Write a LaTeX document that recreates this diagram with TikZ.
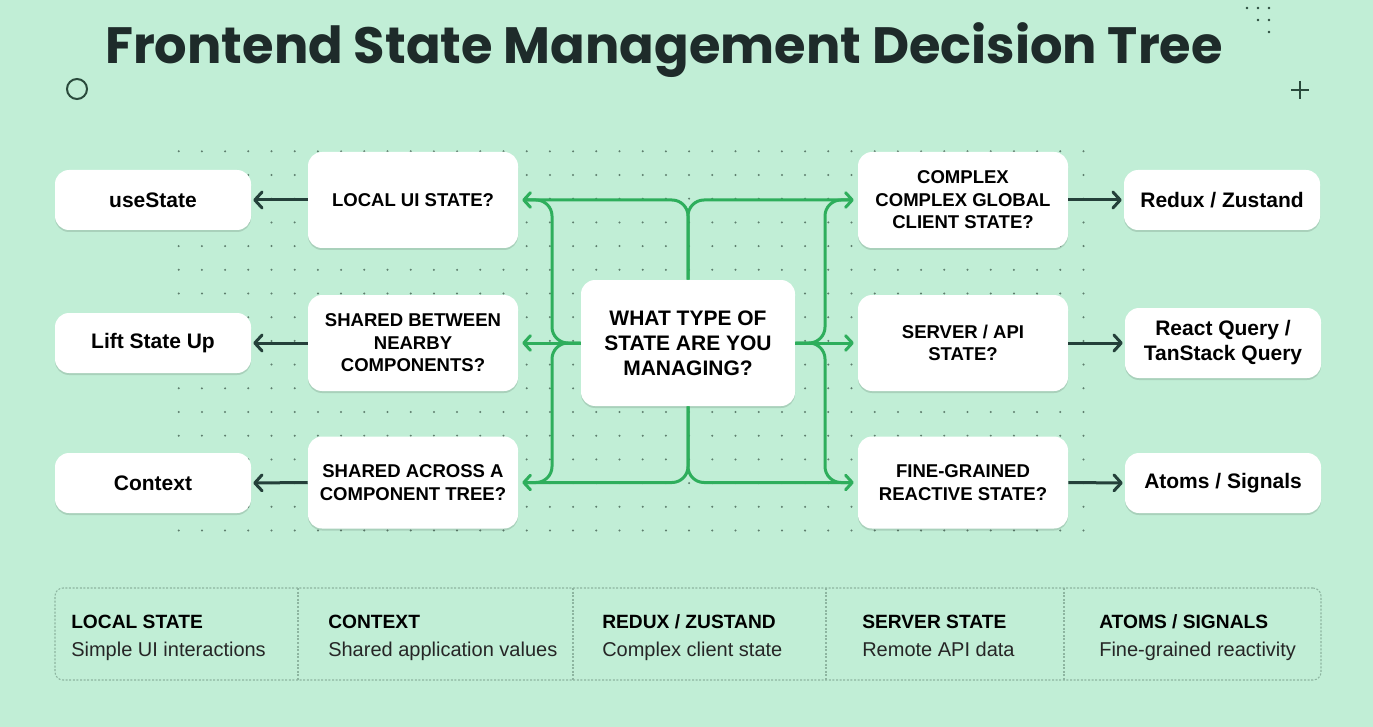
\documentclass[tikz,border=0pt]{standalone}
\usepackage{fontspec}
\setmainfont{Liberation Sans}
\newfontfamily\titlefont{Poppins}
\usetikzlibrary{arrows.meta,shadows,calc}
\definecolor{bg}{HTML}{C1EED6}
\definecolor{ink}{HTML}{1E2B2A}
\definecolor{gr}{HTML}{2EAE5C}
\definecolor{dk}{HTML}{24403A}
\definecolor{dotc}{HTML}{5E7E6E}
\definecolor{legc}{HTML}{8DB5A0}
\definecolor{deco}{HTML}{2A4A3C}
\begin{document}
\begin{tikzpicture}[x=0.75pt,y=-0.75pt,
 box/.style={fill=white, rounded corners=10.5pt,
   drop shadow={shadow xshift=0pt,shadow yshift=-1.5pt,opacity=0.12,fill=black},
   align=center, text=black, inner sep=0pt},
 qbox/.style={box, minimum width=157.5pt, minimum height=72pt,
   font=\bfseries\fontsize{13.9}{16.9}\selectfont},
 obox/.style={box, minimum width=147pt, minimum height=45pt,
   font=\bfseries\fontsize{15.75}{18.75}\selectfont},
 cbox/.style={box, minimum width=160.5pt, minimum height=94.5pt,
   font=\bfseries\fontsize{15.75}{18.75}\selectfont},
 darr/.style={draw=dk, line width=2.25pt, shorten >=1.5pt,
   -{Straight Barb[length=5.5pt,width=12pt,round]}},
 garr/.style={draw=gr, line width=2.25pt, shorten >=3pt, rounded corners=12pt,
   -{Straight Barb[length=5pt,width=11pt,round]}},
 gline/.style={draw=gr, line width=2.25pt, shorten >=6pt, rounded corners=12pt},
 lgh/.style={anchor=base west, inner sep=0pt, font=\bfseries\fontsize{14.4}{17}\selectfont, text=black},
 lgd/.style={anchor=base west, inner sep=0pt, font=\fontsize{15}{17}\selectfont, text=black!85},
 legline/.style={draw=legc, line width=0.8pt, dash pattern=on 1.5pt off 1.2pt}
]
\fill[bg] (0,0) rectangle (1373,727);
\useasboundingbox (0,0) rectangle (1373,727);

% dot grid
\foreach \i in {0,...,39}{
  \foreach \j in {0,...,16}{
    \fill[dotc] (178.7+23.2*\i, 151.3+23.7*\j) circle (0.85pt);
  }
}

% decorations
\draw[deco, line width=1.5pt] (77,89) circle (7.5pt);
\draw[deco, line width=1.3pt] (1291,90) -- (1309,90) (1300,81) -- (1300,99);
\foreach \p in {(1247,8),(1258,8),(1269,8),(1258,20),(1269,20),(1269,32)}
  \fill[deco] \p circle (1.1pt);

% title
\node[font=\titlefont\bfseries\fontsize{38.3}{45}\selectfont, text=ink, anchor=base] (title) at (664,64) {Frontend State Management Decision Tree};

% coordinates for branch verticals
\coordinate (bl) at (552,0);
\coordinate (br) at (825,0);

% nodes
\node[cbox] (c) at (688,343) {WHAT TYPE OF\\STATE ARE YOU\\MANAGING?};
\node[qbox] (q1) at (413,200) {LOCAL UI STATE?};
\node[qbox] (q2) at (413,343) {SHARED BETWEEN\\NEARBY\\COMPONENTS?};
\node[qbox, minimum height=69pt] (q3) at (413,482.5) {SHARED ACROSS A\\COMPONENT TREE?};
\node[qbox] (r1) at (963,200) {COMPLEX\\COMPLEX GLOBAL\\CLIENT STATE?};
\node[qbox] (r2) at (963,343) {SERVER / API\\STATE?};
\node[qbox, minimum height=69pt] (r3) at (963,482.5) {FINE-GRAINED\\REACTIVE STATE?};

\node[obox] (o1) at (153,200) {useState};
\node[obox] (o2) at (153,343) {Lift State Up};
\node[obox] (o3) at (153,483) {Context};
\node[obox] (p1) at (1222,200) {Redux / Zustand};
\node[obox, minimum height=52.5pt] (p2) at (1223,343) {React Query /\\TanStack Query};
\node[obox] (p3) at (1223,483) {Atoms / Signals};

% green connectors
\draw[gline] (c.west) -| (q1.east -| bl) -- (q1.east);
\draw[gline] (c.west) -| (q3.east -| bl) -- (q3.east);
\draw[gline] (c.east) -| (r1.west -| br) -- (r1.west);
\draw[gline] (c.east) -| (r3.west -| br) -- (r3.west);
\draw[garr] (c.north) |- (q1.east);
\draw[garr] (c.north) |- (r1.west);
\draw[garr] (c.south) |- (q3.east);
\draw[garr] (c.south) |- (r3.west);
\draw[garr] (c.west) -- (q2.east);
\draw[garr] (c.east) -- (r2.west);

% dark arrows
\draw[darr] (q1.west) -- (o1.east);
\draw[darr] (q2.west) -- (o2.east);
\draw[darr] (q3.west) -- (o3.east);
\draw[darr] (r1.east) -- (p1.west);
\draw[darr] (r2.east) -- (p2.west);
\draw[darr] (r3.east) -- (p3.west);

% legend
\node[legline, rounded corners=6pt, minimum width=949.5pt, minimum height=69pt, inner sep=0pt] (legend) at (688,634) {};
\foreach \x in {298,573,826,1064}
  \draw[legline] (\x,588) -- (\x,680);
\node[lgh] (h1) at (71,628) {LOCAL STATE};
\node[lgd] (d1) at (71,656) {Simple UI interactions};
\node[lgh] (h2) at (328,628) {CONTEXT};
\node[lgd] (d2) at (328,656) {Shared application values};
\node[lgh] (h3) at (602,628) {REDUX / ZUSTAND};
\node[lgd] (d3) at (602,656) {Complex client state};
\node[lgh] (h4) at (862,628) {SERVER STATE};
\node[lgd] (d4) at (862,656) {Remote API data};
\node[lgh] (h5) at (1099,628) {ATOMS / SIGNALS};
\node[lgd] (d5) at (1099,656) {Fine-grained reactivity};
\end{tikzpicture}
\end{document}
